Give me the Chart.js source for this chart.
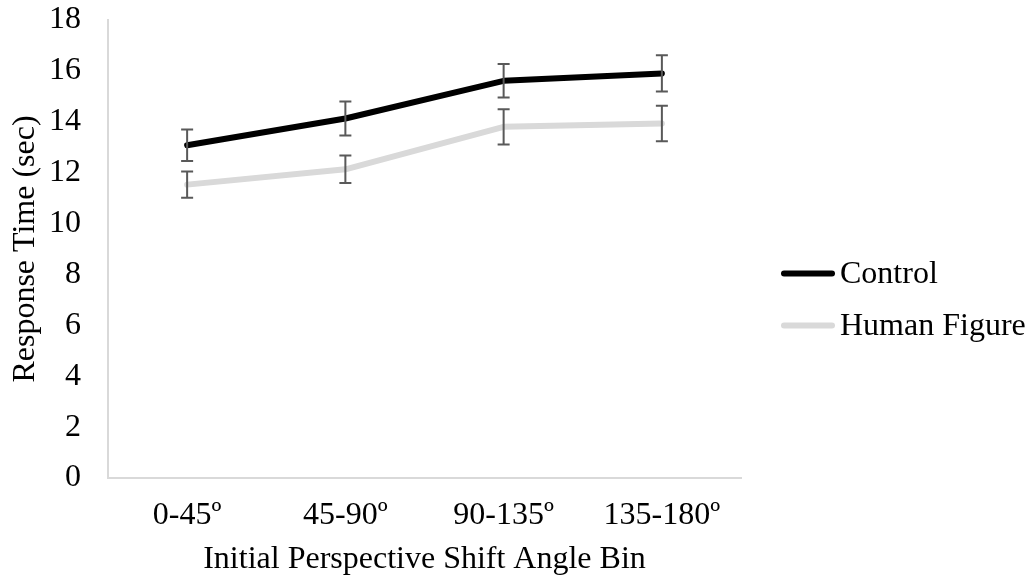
<!DOCTYPE html>
<html>
<head>
<meta charset="utf-8">
<script src="https://cdn.jsdelivr.net/npm/chart.js@4.4.1/dist/chart.umd.min.js"></script>
<style>
  html, body { margin: 0; padding: 0; background: #fff; }
  #wrap { width: 1032px; height: 579px; position: relative; }
</style>
</head>
<body>
<div id="wrap"><canvas id="rtChart"></canvas></div>
<script>
  // angle bins (x axis)
  var angleBins = ['0-45º', '45-90º', '90-135º', '135-180º'];
  // mean response time (sec)
  var controlData = [13.08, 14.13, 15.61, 15.90];
  var humanData = [11.53, 12.13, 13.80, 13.93];
  // error bar half-lengths
  var controlErr = [0.62, 0.67, 0.66, 0.71];
  var humanErr = [0.52, 0.54, 0.69, 0.70];

  var serif = "'Liberation Serif', 'Times New Roman', serif";

  // simple error bars, drawn with the chart's own scales
  var errorBars = {
    id: 'errorBars',
    afterDatasetsDraw: function(chart) {
      var ctx = chart.ctx;
      var x = chart.scales.x, y = chart.scales.y;
      ctx.save();
      ctx.strokeStyle = '#595959';
      ctx.lineWidth = 2;
      chart.data.datasets.forEach(function(ds) {
        ds.data.forEach(function(v, i) {
          var px = x.getPixelForValue(i);
          var top = y.getPixelForValue(v + ds.errors[i]);
          var bot = y.getPixelForValue(v - ds.errors[i]);
          ctx.beginPath();
          ctx.moveTo(px, top); ctx.lineTo(px, bot);
          ctx.moveTo(px - 6, top); ctx.lineTo(px + 6, top);
          ctx.moveTo(px - 6, bot); ctx.lineTo(px + 6, bot);
          ctx.stroke();
        });
      });
      ctx.restore();
    }
  };

  // legend on the right, line sample + label (built-in one is width-capped)
  var sideLegend = {
    id: 'sideLegend',
    afterDraw: function(chart) {
      var ctx = chart.ctx;
      var x0 = chart.chartArea.right + 40;
      var y0 = chart.height / 2 - 16;
      ctx.save();
      ctx.font = '32px ' + serif;
      ctx.textBaseline = 'middle';
      ctx.lineCap = 'round';
      chart.data.datasets.forEach(function(ds, i) {
        var y = y0 + i * 52;
        ctx.strokeStyle = ds.borderColor;
        ctx.lineWidth = 6;
        ctx.beginPath();
        ctx.moveTo(x0 + 3, y);
        ctx.lineTo(x0 + 51, y);
        ctx.stroke();
        ctx.fillStyle = '#000';
        ctx.fillText(ds.label, x0 + 59, y + 1);
      });
      ctx.restore();
    }
  };

  var ctx = document.getElementById('rtChart').getContext('2d');
  var rtChart = new Chart(ctx, {
    type: 'line',
    data: {
      labels: angleBins,
      datasets: [
        {
          label: 'Control',
          data: controlData,
          errors: controlErr,
          borderColor: '#000000',
          backgroundColor: '#000000',
          borderWidth: 6,
          borderCapStyle: 'round',
          borderJoinStyle: 'round',
          pointRadius: 0
        },
        {
          label: 'Human Figure',
          data: humanData,
          errors: humanErr,
          borderColor: '#d9d9d9',
          backgroundColor: '#d9d9d9',
          borderWidth: 6,
          borderCapStyle: 'round',
          borderJoinStyle: 'round',
          pointRadius: 0
        }
      ]
    },
    options: {
      responsive: true,
      maintainAspectRatio: false,
      animation: false,
      layout: { padding: { top: 20, right: 291, left: 0, bottom: 0 } },
      plugins: {
        tooltip: { enabled: false },
        legend: { display: false }
      },
      scales: {
        x: {
          offset: true,
          grid: { display: false, drawTicks: false },
          border: { display: true, color: '#d9d9d9', width: 2 },
          ticks: { color: '#000', padding: 18, font: { family: serif, size: 32 } },
          title: {
            display: true,
            text: 'Initial Perspective Shift Angle Bin',
            color: '#000',
            padding: { top: 0, bottom: 0 },
            font: { family: serif, size: 32 }
          },
          afterFit: function(scale) { scale.height = 101; }
        },
        y: {
          min: 0,
          max: 18,
          grid: { display: false, drawTicks: false },
          border: { display: true, color: '#d9d9d9', width: 2 },
          ticks: { stepSize: 2, color: '#000', padding: 27, font: { family: serif, size: 32 } },
          title: {
            display: true,
            text: 'Response Time (sec)',
            color: '#000',
            padding: { top: 6, bottom: 0 },
            font: { family: serif, size: 32 }
          },
          afterFit: function(scale) {
            scale.width = 108;
            scale.paddingTop = 0;
            scale.paddingBottom = 0;
          }
        }
      }
    },
    plugins: [errorBars, sideLegend]
  });
</script>
</body>
</html>
